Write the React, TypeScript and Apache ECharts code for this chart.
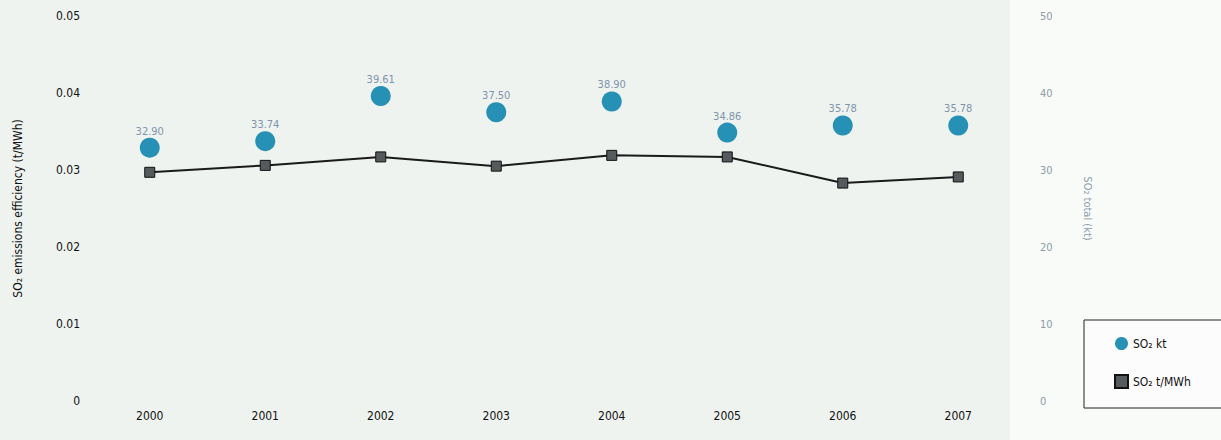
import React, { useEffect, useRef } from "react";
import * as echarts from "echarts";

const years = ["2000", "2001", "2002", "2003", "2004", "2005", "2006", "2007"];
const so2Kt = [32.9, 33.74, 39.61, 37.5, 38.9, 34.86, 35.78, 35.78];
const so2PerMWh = [0.0297, 0.0306, 0.0317, 0.0305, 0.0319, 0.0317, 0.0283, 0.0291];
const leftTicks = { min: 0, max: 0.05, interval: 0.01 };
const rightTicks = { min: 0, max: 50, interval: 10 };
const seriesNames = ["SO₂ kt", "SO₂ t/MWh"];
const leftTitle = "SO₂ emissions efficiency (t/MWh)";
const rightTitle = "SO₂ total (kt)";

const FONT = '"Liberation Sans Narrow", "DejaVu Sans Condensed", "Liberation Sans", sans-serif';

export default function App() {
  const ref = useRef<HTMLDivElement>(null);
  useEffect(() => {
    if (!ref.current) return;
    const chart = echarts.init(ref.current, null, { renderer: "svg" });
    chart.setOption({
      animation: false,
      backgroundColor: "#eef3ef",
      textStyle: { fontFamily: FONT },
      graphic: [
        {
          type: "rect",
          silent: true,
          z: -10,
          shape: { x: 1010, y: 0, width: 211, height: 440 },
          style: { fill: "#f9fbf9" },
        },
      ],
      grid: { left: 92, right: 205, top: 16, bottom: 39, containLabel: false },
      legend: {
        orient: "vertical",
        left: 1084,
        top: 320,
        padding: [17, 60, 19, 30],
        itemGap: 24,
        itemWidth: 13,
        itemHeight: 13,
        borderColor: "#222",
        borderWidth: 1,
        backgroundColor: "#fbfcfb",
        textStyle: { fontFamily: FONT, fontSize: 12, color: "#111" },
        data: [
          { name: seriesNames[0], icon: "circle" },
          { name: seriesNames[1], icon: "rect" },
        ],
      },
      xAxis: {
        type: "category",
        data: years,
        boundaryGap: true,
        axisLine: { show: false },
        axisTick: { show: false },
        axisLabel: { color: "#111", fontSize: 12, margin: 9, fontFamily: FONT },
      },
      yAxis: [
        {
          type: "value",
          min: leftTicks.min,
          max: leftTicks.max,
          interval: leftTicks.interval,
          position: "left",
          splitLine: { show: false },
          axisLine: { show: false },
          axisTick: { show: false },
          axisLabel: {
            color: "#111",
            fontSize: 12,
            margin: 12,
            fontFamily: FONT,
            formatter: (v: number) => (v === 0 ? "0" : v.toFixed(2)),
          },
          name: leftTitle,
          nameLocation: "middle",
          nameRotate: 90,
          nameGap: 68,
          nameTextStyle: { color: "#111", fontSize: 12, fontFamily: FONT },
        },
        {
          type: "value",
          min: rightTicks.min,
          max: rightTicks.max,
          interval: rightTicks.interval,
          position: "right",
          splitLine: { show: false },
          axisLine: { show: false },
          axisTick: { show: false },
          axisLabel: { color: "#8c9ba6", fontSize: 11, margin: 24, fontFamily: FONT },
          name: rightTitle,
          nameLocation: "middle",
          nameRotate: -90,
          nameGap: 66,
          nameTextStyle: { color: "#8a9cab", fontSize: 11, fontFamily: FONT },
        },
      ],
      series: [
        {
          name: seriesNames[0],
          type: "scatter",
          yAxisIndex: 1,
          data: so2Kt,
          symbol: "circle",
          symbolSize: 20,
          z: 3,
          itemStyle: { color: "#2790b5", opacity: 1 },
          label: {
            show: true,
            position: "top",
            distance: 1,
            color: "#7f93ad",
            fontSize: 11,
            fontFamily: FONT,
            formatter: (p: any) => Number(p.value).toFixed(2),
          },
        },
        {
          name: seriesNames[1],
          type: "line",
          yAxisIndex: 0,
          data: so2PerMWh,
          symbol: "rect",
          symbolSize: 10,
          z: 4,
          itemStyle: { color: "#555a5c", borderColor: "#111", borderWidth: 1 },
          lineStyle: { color: "#1a1a1a", width: 2 },
        },
      ],
    });
    return () => chart.dispose();
  }, []);
  return (
    <div
      ref={ref}
      style={{ position: "fixed", left: 0, top: 0, width: 1221, height: 440 }}
    />
  );
}
